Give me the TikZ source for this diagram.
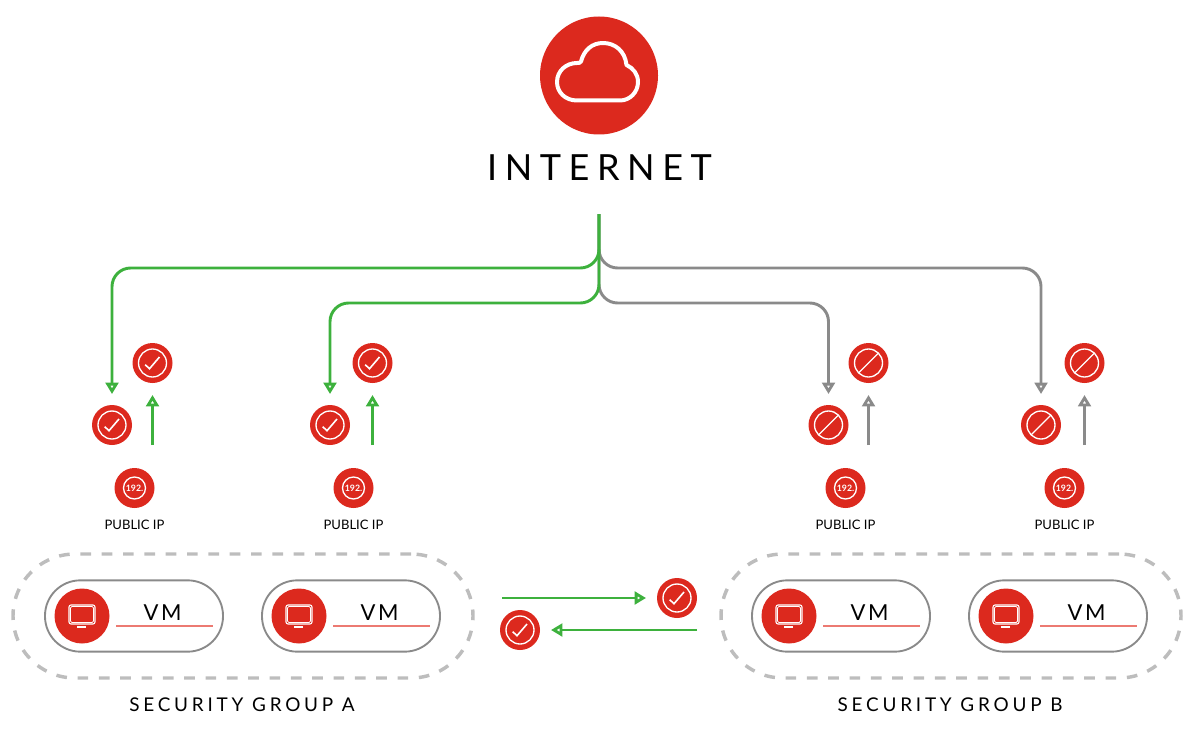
\documentclass[tikz,border=0pt]{standalone}
\usepackage{fontspec}
\setmainfont{Lato}
\newfontfamily\wideA[LetterSpace=21]{Lato}
\newfontfamily\wideB[LetterSpace=20]{Lato}
\newfontfamily\wideC[LetterSpace=12]{Lato}
\usepackage{xcolor}
\usetikzlibrary{
  arrows.meta,
  positioning
}
\definecolor{ringred}{HTML}{DC291E}
\definecolor{okgreen}{HTML}{3DB13D}
\definecolor{nogray}{HTML}{8A8A8A}
\definecolor{dashgray}{HTML}{BDBDBD}
\definecolor{rulered}{HTML}{EC7A72}
\tikzset{
  redcirc/.style={circle,fill=ringred,draw=none,inner sep=0pt,outer sep=0pt,minimum size=30pt},
  okicon/.style={redcirc,path picture={
    \draw[white,line width=1pt] (path picture bounding box.center) circle (14);
    \draw[white,line width=1.2pt,shift={(path picture bounding box.center)}] (-7.3,1.7) -- (-3,5.7) -- (7,-6);
  }},
  noicon/.style={redcirc,path picture={
    \draw[white,line width=1pt] (path picture bounding box.center) circle (14);
    \draw[white,line width=1pt,shift={(path picture bounding box.center)}] (-10,10) -- (10,-10);
  }},
  ipicon/.style={redcirc,text=white,font=\fontsize{6.6}{7}\selectfont\bfseries,path picture={
    \draw[white,line width=1pt] (path picture bounding box.center) circle (11);
  }},
  vmicon/.style={redcirc,minimum size=41.25pt,path picture={
    \draw[white,line width=0.8pt,rounded corners=1.5pt,shift={(path picture bounding box.center)}] (-13,-11) rectangle (13,8);
    \draw[white,line width=0.6pt,rounded corners=1pt,shift={(path picture bounding box.center)}] (-11.5,-9.5) rectangle (11.5,6.5);
    \draw[white,line width=0.8pt,shift={(path picture bounding box.center)}] (-5,11) -- (4,11);
  }},
  vmpill/.style={draw=nogray,line width=1.4pt,rounded corners=26.5pt,minimum width=133.5pt,minimum height=53.5pt,inner sep=0pt},
  sgroup/.style={draw=dashgray,line width=2.6pt,dash pattern=on 8pt off 8pt,rounded corners=46.5pt,minimum width=345pt,minimum height=93pt,inner sep=0pt},
  okline/.style={draw=okgreen,line width=2.2pt,-{Triangle[open,fill=white,length=8.5pt,width=9.5pt]}},
  noline/.style={draw=nogray,line width=2.2pt,-{Triangle[open,fill=white,length=8.5pt,width=9.5pt]}},
  iplabel/.style={font=\fontsize{9.8}{12}\selectfont,inner sep=0pt},
  sglabel/.style={font=\fontsize{14.2}{16}\selectfont\wideB,inner sep=0pt}
}
\begin{document}
\begin{tikzpicture}[x=0.75pt,y=-0.75pt]
  \useasboundingbox (0,0) rectangle (1194,738);
  % internet
  \node[redcirc,minimum size=88.5pt] (cloud) at (599,75.5) {};
  \draw[white,line width=3pt,line join=round] (577,100.5) .. controls (565,100.5) and (557,92) .. (557,82)
    .. controls (557,71) and (566,63) .. (577,63) .. controls (579,63) and (580,63) .. (581,61.5)
    .. controls (584,50) and (592,43) .. (603,43) .. controls (615,43) and (625,51) .. (626.5,65)
    .. controls (633,68) and (638,74) .. (638,82) .. controls (638,92) and (630,100.5) .. (620,100.5) -- cycle;
  \node[font=\fontsize{27}{30}\selectfont\wideA,inner sep=0pt] (inet) at (599.5,168) {INTERNET};
  \coordinate (trunk) at (599,214);
  % shields and public ips
  \foreach \nm/\st/\xd/\xu/\xi in {A/okicon/112/152.5/134.5,B/okicon/330/372.5/353.5,C/noicon/828.5/868.5/845.5,D/noicon/1041/1084.5/1064.5}{
    \node[\st] (up\nm) at (\xu,363) {};
    \node[\st] (dn\nm) at (\xd,425) {};
    \node[ipicon] (ip\nm) at (\xi,488) {192.};
    \node[iplabel] (lb\nm) at (\xi,524.5) {PUBLIC IP};
    \coordinate (tl\nm) at (\xu,445);
  }
  % routes from internet
  \coordinate (busA) at (112,268);
  \coordinate (busB) at (330,303);
  \coordinate (busC) at (828.5,303);
  \coordinate (busD) at (1041,268);
  \draw[noline,rounded corners=14pt,shorten >=8.25pt] (trunk) |- (busD) -- (dnD.north);
  \draw[noline,rounded corners=14pt,shorten >=8.25pt] (trunk) |- (busC) -- (dnC.north);
  \draw[okline,rounded corners=14pt,shorten >=8.25pt] (trunk) |- (busA) -- (dnA.north);
  \draw[okline,rounded corners=14pt,shorten >=8.25pt] (trunk) |- (busB) -- (dnB.north);
  % return arrows
  \draw[okline,shorten >=9pt] (tlA) -- (upA.south);
  \draw[okline,shorten >=9pt] (tlB) -- (upB.south);
  \draw[noline,shorten >=9pt] (tlC) -- (upC.south);
  \draw[noline,shorten >=9pt] (tlD) -- (upD.south);
  % security groups
  \node[sgroup] (sgA) at (243,616) {};
  \node[sgroup] (sgB) at (951,616) {};
  \node[sglabel] (sgtA) at (242,704.5) {SECURITY GROUP A};
  \node[sglabel] (sgtB) at (950,704.5) {SECURITY GROUP B};
  % vm pills
  \foreach \nm/\xx in {P/134,Q/351,R/841,S/1058}{
    \node[vmpill] (pill\nm) at (\xx,616) {};
    \node[vmicon] (mon\nm) at (\xx-52,616) {};
    \node[font=\fontsize{16.5}{18}\selectfont\wideC,inner sep=0pt] (vm\nm) at (\xx+28.5,612.5) {VM};
    \draw[rulered,line width=0.9pt] (\xx-18,626) -- (\xx+79,626);
  }
  % traffic between groups
  \node[okicon] (okR) at (677,598) {};
  \node[okicon] (okL) at (520,630) {};
  \coordinate (fromA) at (502,598);
  \coordinate (fromB) at (697,630);
  \draw[okline,shorten >=8.25pt] (fromA) -- (okR.west);
  \draw[okline,shorten >=8.25pt] (fromB) -- (okL.east);
\end{tikzpicture}
\end{document}
